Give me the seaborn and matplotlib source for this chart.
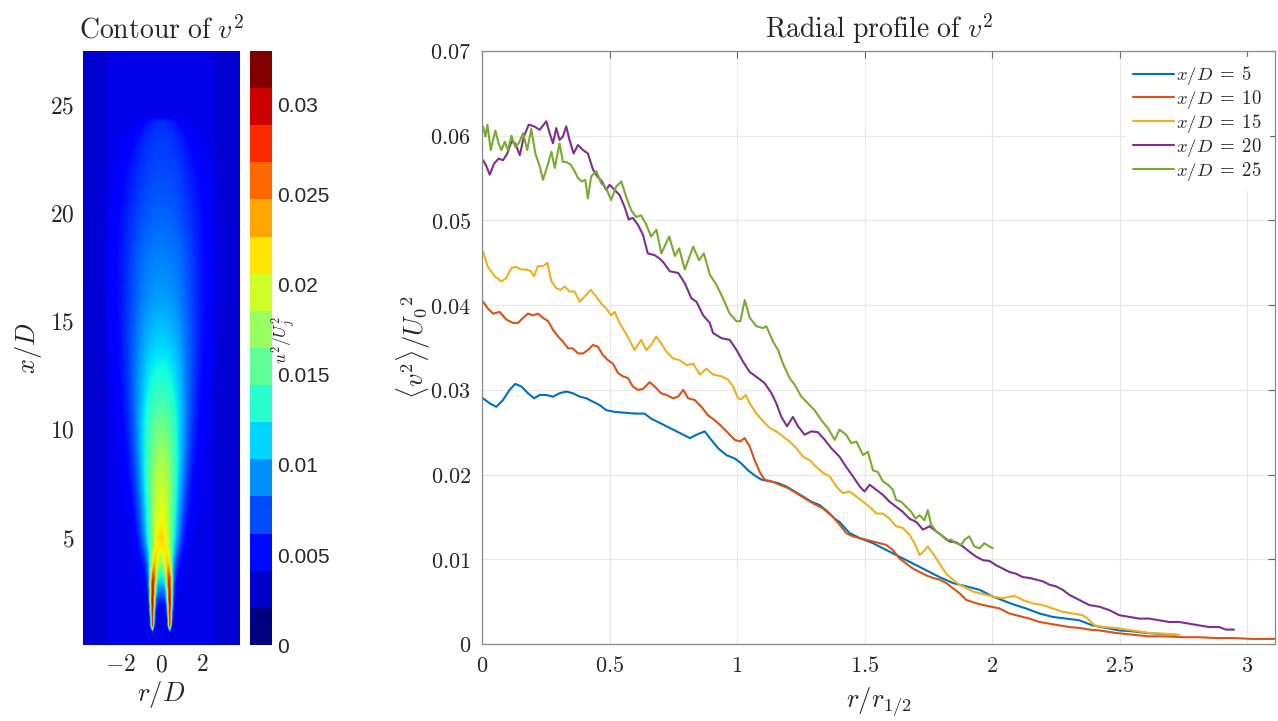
import numpy as np
import pandas as pd
import matplotlib
matplotlib.use("Agg")
import matplotlib.pyplot as plt
import seaborn as sns
from matplotlib.cm import ScalarMappable
from matplotlib.colors import Normalize

# ---- radial profiles <v^2>/U0^2 vs r/r_1/2 ----
r_5 = [0.004, 0.030, 0.056, 0.082, 0.108, 0.130, 0.154, 0.180, 0.204, 0.226, 0.252, 0.278, 0.304, 0.330,
       0.356, 0.383, 0.409, 0.435, 0.461, 0.487, 0.520, 0.559, 0.598, 0.637, 0.663, 0.697, 0.736, 0.776,
       0.815, 0.841, 0.873, 0.899, 0.926, 0.958, 0.991, 1.017, 1.043, 1.069, 1.096, 1.128, 1.161, 1.193,
       1.226, 1.259, 1.291, 1.324, 1.356, 1.383, 1.402, 1.441, 1.481, 1.533, 1.585, 1.637, 1.690, 1.742,
       1.794, 1.846, 1.899, 1.951, 2.003, 2.029, 2.081, 2.133, 2.186, 2.238, 2.290, 2.342, 2.394, 2.447,
       2.499, 2.551, 2.603, 2.656, 2.721]
v_5 = [0.0290, 0.0284, 0.0280, 0.0288, 0.0300, 0.0307, 0.0304, 0.0296, 0.0290, 0.0294, 0.0294, 0.0292,
       0.0296, 0.0298, 0.0296, 0.0292, 0.0290, 0.0286, 0.0282, 0.0276, 0.0274, 0.0273, 0.0272, 0.0272,
       0.0266, 0.0261, 0.0255, 0.0249, 0.0243, 0.0247, 0.0251, 0.0241, 0.0231, 0.0223, 0.0219, 0.0213,
       0.0205, 0.0199, 0.0194, 0.0192, 0.0190, 0.0186, 0.0180, 0.0174, 0.0168, 0.0164, 0.0156, 0.0148,
       0.0144, 0.0131, 0.0125, 0.0119, 0.0111, 0.0103, 0.0095, 0.0087, 0.0079, 0.0072, 0.0068, 0.0064,
       0.0056, 0.0053, 0.0047, 0.0042, 0.0036, 0.0032, 0.0030, 0.0028, 0.0022, 0.0019, 0.0016, 0.0015,
       0.0013, 0.0012, 0.0011]

r_10 = [0.004, 0.023, 0.043, 0.069, 0.095, 0.121, 0.141, 0.161, 0.180, 0.200, 0.219, 0.239, 0.259, 0.278,
        0.298, 0.317, 0.337, 0.356, 0.376, 0.396, 0.415, 0.435, 0.454, 0.474, 0.494, 0.513, 0.533, 0.552,
        0.572, 0.591, 0.611, 0.631, 0.657, 0.677, 0.702, 0.723, 0.749, 0.769, 0.789, 0.808, 0.834, 0.860,
        0.886, 0.913, 0.939, 0.965, 0.991, 1.011, 1.030, 1.050, 1.069, 1.089, 1.108, 1.135, 1.167, 1.200,
        1.233, 1.265, 1.298, 1.337, 1.376, 1.402, 1.428, 1.454, 1.481, 1.507, 1.533, 1.559, 1.585, 1.611,
        1.637, 1.663, 1.690, 1.716, 1.742, 1.768, 1.794, 1.820, 1.846, 1.872, 1.899, 1.950, 2.029, 2.068,
        2.107, 2.146, 2.186, 2.225, 2.264, 2.303, 2.342, 2.381, 2.421, 2.486, 2.551, 2.617, 2.682, 2.747,
        2.812, 2.878, 2.943, 3.021, 3.110]
v_10 = [0.0404, 0.0396, 0.0390, 0.0392, 0.0383, 0.0379, 0.0379, 0.0385, 0.0390, 0.0388, 0.0390, 0.0385,
        0.0381, 0.0371, 0.0363, 0.0357, 0.0349, 0.0349, 0.0343, 0.0343, 0.0347, 0.0353, 0.0351, 0.0341,
        0.0335, 0.0331, 0.0320, 0.0316, 0.0314, 0.0304, 0.0300, 0.0301, 0.0309, 0.0304, 0.0296, 0.0294,
        0.0290, 0.0292, 0.0300, 0.0290, 0.0288, 0.0280, 0.0270, 0.0264, 0.0257, 0.0249, 0.0241, 0.0239,
        0.0243, 0.0233, 0.0217, 0.0203, 0.0194, 0.0192, 0.0188, 0.0184, 0.0178, 0.0172, 0.0166, 0.0160,
        0.0150, 0.0141, 0.0131, 0.0127, 0.0125, 0.0123, 0.0121, 0.0119, 0.0117, 0.0111, 0.0101, 0.0095,
        0.0089, 0.0085, 0.0081, 0.0078, 0.0076, 0.0072, 0.0066, 0.0060, 0.0052, 0.0047, 0.0042, 0.0036,
        0.0033, 0.0030, 0.0026, 0.0024, 0.0022, 0.0020, 0.0019, 0.0017, 0.0016, 0.0013, 0.0011, 0.0009,
        0.0009, 0.0008, 0.0008, 0.0007, 0.0007, 0.0006, 0.0006]

r_15 = [0.004, 0.023, 0.050, 0.076, 0.095, 0.115, 0.134, 0.154, 0.174, 0.191, 0.204, 0.219, 0.239, 0.256,
        0.272, 0.291, 0.308, 0.324, 0.343, 0.363, 0.383, 0.402, 0.426, 0.448, 0.467, 0.487, 0.506, 0.520,
        0.539, 0.559, 0.578, 0.598, 0.624, 0.644, 0.663, 0.683, 0.702, 0.723, 0.749, 0.776, 0.802, 0.828,
        0.854, 0.880, 0.906, 0.939, 0.965, 0.984, 1.004, 1.017, 1.034, 1.050, 1.076, 1.102, 1.128, 1.154,
        1.180, 1.206, 1.233, 1.259, 1.285, 1.311, 1.337, 1.363, 1.389, 1.415, 1.441, 1.468, 1.494, 1.520,
        1.546, 1.572, 1.598, 1.624, 1.650, 1.676, 1.696, 1.716, 1.731, 1.748, 1.768, 1.794, 1.820, 1.846,
        1.872, 1.899, 1.925, 1.951, 1.977, 2.003, 2.042, 2.088, 2.120, 2.159, 2.199, 2.238, 2.277, 2.316,
        2.355, 2.375, 2.401, 2.440, 2.486, 2.551, 2.617, 2.682, 2.734]
v_15 = [0.0463, 0.0445, 0.0434, 0.0428, 0.0432, 0.0444, 0.0445, 0.0442, 0.0442, 0.0440, 0.0434, 0.0446,
        0.0446, 0.0450, 0.0428, 0.0420, 0.0418, 0.0422, 0.0416, 0.0416, 0.0404, 0.0410, 0.0418, 0.0410,
        0.0402, 0.0396, 0.0388, 0.0392, 0.0379, 0.0369, 0.0359, 0.0347, 0.0359, 0.0347, 0.0353, 0.0363,
        0.0355, 0.0345, 0.0337, 0.0335, 0.0329, 0.0331, 0.0318, 0.0325, 0.0318, 0.0316, 0.0312, 0.0304,
        0.0290, 0.0289, 0.0294, 0.0284, 0.0272, 0.0263, 0.0255, 0.0251, 0.0245, 0.0239, 0.0231, 0.0221,
        0.0217, 0.0209, 0.0202, 0.0198, 0.0186, 0.0178, 0.0180, 0.0174, 0.0168, 0.0162, 0.0154, 0.0154,
        0.0148, 0.0139, 0.0137, 0.0129, 0.0119, 0.0105, 0.0109, 0.0115, 0.0107, 0.0095, 0.0083, 0.0076,
        0.0070, 0.0066, 0.0062, 0.0060, 0.0058, 0.0056, 0.0054, 0.0057, 0.0052, 0.0048, 0.0046, 0.0042,
        0.0038, 0.0036, 0.0034, 0.0030, 0.0022, 0.0020, 0.0019, 0.0016, 0.0013, 0.0012, 0.0011]

r_20 = [0.004, 0.017, 0.030, 0.047, 0.065, 0.082, 0.099, 0.115, 0.130, 0.148, 0.164, 0.183, 0.204, 0.226,
        0.252, 0.265, 0.278, 0.291, 0.304, 0.317, 0.330, 0.343, 0.359, 0.376, 0.396, 0.415, 0.435, 0.452,
        0.470, 0.487, 0.500, 0.520, 0.539, 0.559, 0.575, 0.591, 0.611, 0.631, 0.650, 0.677, 0.696, 0.710,
        0.736, 0.769, 0.795, 0.821, 0.841, 0.867, 0.893, 0.906, 0.939, 0.971, 0.998, 1.024, 1.050, 1.082,
        1.108, 1.135, 1.154, 1.174, 1.196, 1.219, 1.239, 1.265, 1.291, 1.317, 1.344, 1.370, 1.402, 1.428,
        1.454, 1.481, 1.500, 1.520, 1.546, 1.572, 1.598, 1.624, 1.650, 1.676, 1.703, 1.729, 1.755, 1.781,
        1.807, 1.833, 1.859, 1.886, 1.911, 1.938, 1.964, 1.990, 2.016, 2.042, 2.068, 2.094, 2.120, 2.146,
        2.173, 2.199, 2.225, 2.251, 2.277, 2.303, 2.342, 2.381, 2.421, 2.460, 2.499, 2.538, 2.577, 2.617,
        2.656, 2.695, 2.734, 2.773, 2.812, 2.852, 2.891, 2.917, 2.949]
v_20 = [0.0571, 0.0564, 0.0554, 0.0567, 0.0573, 0.0571, 0.0579, 0.0593, 0.0591, 0.0577, 0.0599, 0.0613,
        0.0611, 0.0607, 0.0617, 0.0603, 0.0591, 0.0609, 0.0595, 0.0599, 0.0611, 0.0595, 0.0579, 0.0589,
        0.0583, 0.0579, 0.0560, 0.0552, 0.0546, 0.0536, 0.0542, 0.0536, 0.0530, 0.0516, 0.0501, 0.0503,
        0.0495, 0.0483, 0.0461, 0.0459, 0.0455, 0.0451, 0.0440, 0.0438, 0.0426, 0.0408, 0.0404, 0.0388,
        0.0379, 0.0367, 0.0361, 0.0359, 0.0347, 0.0333, 0.0321, 0.0314, 0.0308, 0.0296, 0.0284, 0.0268,
        0.0257, 0.0268, 0.0257, 0.0247, 0.0251, 0.0250, 0.0241, 0.0231, 0.0221, 0.0209, 0.0198, 0.0186,
        0.0180, 0.0188, 0.0182, 0.0176, 0.0168, 0.0162, 0.0156, 0.0148, 0.0144, 0.0135, 0.0139, 0.0133,
        0.0127, 0.0121, 0.0120, 0.0115, 0.0109, 0.0103, 0.0099, 0.0098, 0.0093, 0.0089, 0.0085, 0.0083,
        0.0079, 0.0078, 0.0076, 0.0074, 0.0070, 0.0068, 0.0064, 0.0058, 0.0052, 0.0046, 0.0044, 0.0040,
        0.0034, 0.0032, 0.0030, 0.0030, 0.0028, 0.0026, 0.0026, 0.0024, 0.0022, 0.0020, 0.0020, 0.0017,
        0.0017]

r_25 = [0.004, 0.013, 0.021, 0.034, 0.052, 0.065, 0.076, 0.089, 0.102, 0.115, 0.130, 0.144, 0.161, 0.177,
        0.193, 0.209, 0.226, 0.239, 0.259, 0.272, 0.285, 0.304, 0.317, 0.330, 0.347, 0.363, 0.376, 0.392,
        0.405, 0.415, 0.428, 0.448, 0.467, 0.487, 0.506, 0.526, 0.546, 0.565, 0.585, 0.604, 0.624, 0.644,
        0.663, 0.684, 0.703, 0.734, 0.756, 0.773, 0.795, 0.828, 0.851, 0.870, 0.893, 0.919, 0.945, 0.971,
        0.998, 1.013, 1.030, 1.050, 1.076, 1.102, 1.115, 1.141, 1.161, 1.180, 1.206, 1.226, 1.252, 1.278,
        1.304, 1.331, 1.356, 1.383, 1.402, 1.428, 1.448, 1.468, 1.494, 1.513, 1.533, 1.552, 1.572, 1.592,
        1.611, 1.624, 1.644, 1.663, 1.683, 1.700, 1.716, 1.735, 1.748, 1.761, 1.781, 1.800, 1.820, 1.840,
        1.859, 1.879, 1.892, 1.911, 1.931, 1.951, 1.970, 1.990, 2.003]
v_25 = [0.0611, 0.0599, 0.0613, 0.0583, 0.0606, 0.0591, 0.0583, 0.0593, 0.0583, 0.0600, 0.0587, 0.0591,
        0.0603, 0.0583, 0.0608, 0.0579, 0.0564, 0.0548, 0.0567, 0.0581, 0.0562, 0.0591, 0.0569, 0.0569,
        0.0566, 0.0558, 0.0550, 0.0546, 0.0548, 0.0526, 0.0552, 0.0558, 0.0544, 0.0538, 0.0524, 0.0540,
        0.0546, 0.0528, 0.0512, 0.0504, 0.0506, 0.0495, 0.0481, 0.0489, 0.0461, 0.0481, 0.0458, 0.0467,
        0.0442, 0.0469, 0.0453, 0.0461, 0.0436, 0.0424, 0.0408, 0.0390, 0.0381, 0.0381, 0.0406, 0.0385,
        0.0375, 0.0373, 0.0375, 0.0357, 0.0347, 0.0331, 0.0314, 0.0306, 0.0292, 0.0284, 0.0276, 0.0264,
        0.0255, 0.0241, 0.0253, 0.0247, 0.0237, 0.0239, 0.0223, 0.0227, 0.0205, 0.0203, 0.0192, 0.0188,
        0.0182, 0.0170, 0.0168, 0.0162, 0.0156, 0.0148, 0.0152, 0.0146, 0.0158, 0.0141, 0.0133, 0.0129,
        0.0123, 0.0123, 0.0119, 0.0117, 0.0123, 0.0127, 0.0115, 0.0113, 0.0119, 0.0115, 0.0113]

labels = [r'$x/D\;=\;5$', r'$x/D\;=\;10$', r'$x/D\;=\;15$', r'$x/D\;=\;20$', r'$x/D\;=\;25$']
colors = ['#0072BD', '#D95319', '#EDB120', '#7E2F8E', '#77AC30']

# ---- contour of v^2: axial stations and profile parameters ----
x_st = [0.0, 0.6, 0.9, 2.0, 3.0, 3.8, 4.5, 5.0, 6.0, 8.0, 10.0, 12.0, 14.0, 16.0, 18.0, 20.0, 22.0, 23.5, 24.3, 25.0, 27.5]
core = [0.0, 0.0, 0.0, 0.005, 0.011, 0.017, 0.021, 0.0225, 0.021, 0.0190, 0.0162, 0.0133, 0.0110, 0.0093,
        0.0083, 0.0073, 0.0065, 0.0060, 0.0055, 0.0, 0.0]
width = [0.3, 0.3, 0.35, 0.45, 0.55, 0.62, 0.7, 0.75, 0.85, 1.05, 1.25, 1.45, 1.65, 1.8, 1.9, 1.9, 1.75, 1.4,
         0.9, 0.5, 0.5]
shape = [2.0, 2.0, 2.0, 2.0, 2.0, 2.0, 2.0, 2.0, 2.0, 2.1, 2.2, 2.3, 2.4, 2.5, 2.6, 2.6, 2.6, 2.6, 2.6, 2.6, 2.6]
lobe = [0.0, 0.0, 0.026, 0.027, 0.022, 0.010, 0.003, 0.0, 0.0, 0.0, 0.0, 0.0, 0.0, 0.0, 0.0, 0.0, 0.0, 0.0,
        0.0, 0.0, 0.0]
lobe_r = [0.42, 0.42, 0.42, 0.42, 0.40, 0.36, 0.32, 0.3, 0.3, 0.3, 0.3, 0.3, 0.3, 0.3, 0.3, 0.3, 0.3, 0.3,
          0.3, 0.3, 0.3]
lobe_w = [0.03, 0.03, 0.08, 0.13, 0.16, 0.19, 0.22, 0.24, 0.25, 0.25, 0.25, 0.25, 0.25, 0.25, 0.25, 0.25,
          0.25, 0.25, 0.25, 0.25, 0.25]
v2_max = 0.033
n_levels = 16

sns.set_theme(style="white")
plt.rcParams['font.family'] = ['DejaVu Serif']
plt.rcParams['mathtext.fontset'] = 'cm'

fig = plt.figure(figsize=(12.78, 7.21), dpi=100)
ax_c = fig.add_axes([0.0649, 0.1054, 0.1228, 0.8239])
cax = fig.add_axes([0.1956, 0.1054, 0.0172, 0.8239])
ax = fig.add_axes([0.3772, 0.1068, 0.6205, 0.8225])

# contour map
rr = np.linspace(-3.8, 3.8, 381)
xx = np.linspace(0, 27.5, 551)
R, X = np.meshgrid(rr, xx)
c = np.interp(X, x_st, core)
w = np.interp(X, x_st, width)
p = np.interp(X, x_st, shape)
L = np.interp(X, x_st, lobe)
r0 = np.interp(X, x_st, lobe_r)
s = np.interp(X, x_st, lobe_w)
bg = np.where(np.abs(R) < 2.6, 0.0030, 0.0024)
field = (bg + np.clip(c - bg, 0, None) * np.exp(-np.abs(R / w) ** p)
         + L * np.exp(-((np.abs(R) - r0) / s) ** 2))
ax_c.pcolormesh(rr, xx, field, cmap='jet', vmin=0, vmax=v2_max, shading='gouraud', rasterized=True)
ax_c.set_xlim(-3.8, 3.8)
ax_c.set_ylim(0, 27.5)
ax_c.set_xticks([-2, 0, 2], labels=['$-2$', '$0$', '$2$'])
ax_c.set_yticks([5, 10, 15, 20, 25], labels=['$5$', '$10$', '$15$', '$20$', '$25$'])
ax_c.tick_params(labelsize=17, length=0, pad=6)
ax_c.set_xlabel('$r/D$', fontsize=19, labelpad=2)
ax_c.set_ylabel('$x/D$', fontsize=19, labelpad=4)
ax_c.set_title(r'$\mathrm{Contour\ of\ }v^2$', fontsize=20, pad=9)
for sp in ax_c.spines.values():
    sp.set_visible(False)

sm = ScalarMappable(norm=Normalize(0, v2_max), cmap=plt.get_cmap('jet', n_levels))
cb = fig.colorbar(sm, cax=cax, ticks=[0, 0.005, 0.01, 0.015, 0.02, 0.025, 0.03])
cb.ax.set_yticklabels(['0', '0.005', '0.01', '0.015', '0.02', '0.025', '0.03'],
                      family='Liberation Sans', fontsize=15)
cb.ax.tick_params(length=0, pad=4)
cb.outline.set_visible(False)
fig.text(0.2215, 0.528, r'$u^2/U_j^2$', rotation=90, fontsize=12.5, ha='center', va='center')

# radial profiles
df = pd.concat([pd.DataFrame({'r': r, 'v': v, 'case': lab})
                for r, v, lab in zip([r_5, r_10, r_15, r_20, r_25], [v_5, v_10, v_15, v_20, v_25], labels)])
sns.lineplot(data=df, x='r', y='v', hue='case', hue_order=labels, palette=colors,
             sort=False, estimator=None, lw=1.5, ax=ax)
ax.set_xlim(0, 3.11)
ax.set_ylim(0, 0.07)
ax.set_xticks(np.arange(0, 3.01, 0.5), labels=['$0$', '$0.5$', '$1$', '$1.5$', '$2$', '$2.5$', '$3$'])
ax.set_yticks(np.arange(0, 0.0701, 0.01),
              labels=['$0$', '$0.01$', '$0.02$', '$0.03$', '$0.04$', '$0.05$', '$0.06$', '$0.07$'])
ax.tick_params(labelsize=16, direction='in', top=True, right=True, length=5, width=0.8, color='#666666', pad=8)
ax.grid(True, color='#e8e8e8', lw=0.9)
for sp in ax.spines.values():
    sp.set_color('#8a8a8a')
    sp.set_linewidth(0.9)
ax.set_xlabel(r'$r/r_{1/2}$', fontsize=19, labelpad=6)
ax.set_ylabel(r'$\langle v^2\rangle/U_0{}^2$', fontsize=19, labelpad=-2)
ax.set_title(r'$\mathrm{Radial\ profile\ of\ }v^2$', fontsize=20, pad=9)
ax.legend(loc='upper right', fontsize=13.5, frameon=True, facecolor='white', edgecolor='white',
          handlelength=2.2, handletextpad=0.1, labelspacing=0.05, borderaxespad=0.3, framealpha=1)

fig.savefig('out.png', dpi=100)
